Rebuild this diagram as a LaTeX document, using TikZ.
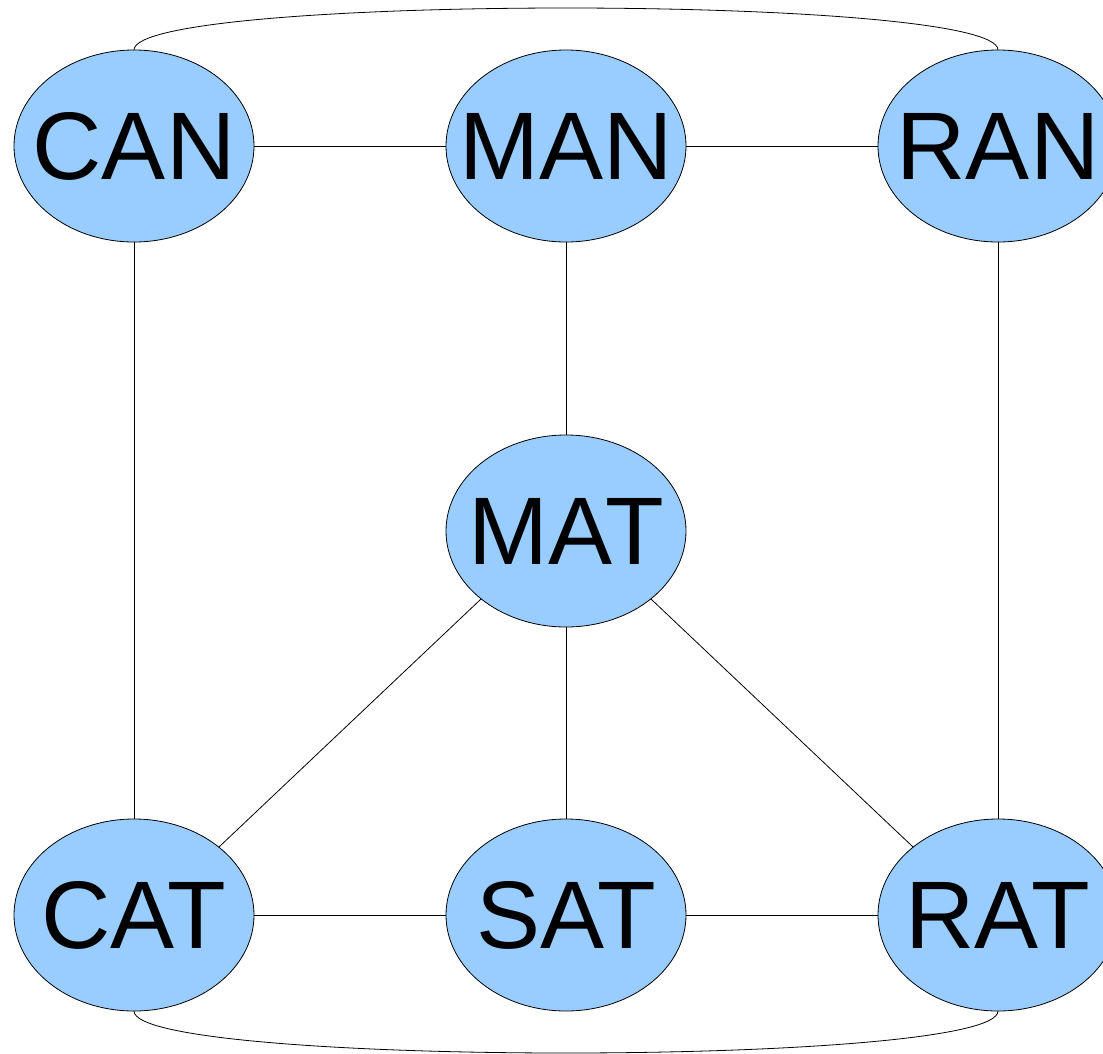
\documentclass[tikz,border=0pt]{standalone}
\usepackage{fontspec}
\setmainfont{Liberation Sans}
\usetikzlibrary{shapes.geometric}
\definecolor{nodeblue}{HTML}{99CCFF}
\tikzset{
  wnode/.style={ellipse, draw=black, line width=0.8pt, fill=nodeblue,
    minimum width=240pt, minimum height=192pt, inner sep=0pt, outer sep=0pt,
    label={[font=\fontsize{96}{96}\selectfont, inner sep=0pt]center:#1}},
  link/.style={draw=black, line width=0.8pt}
}
\begin{document}
\begin{tikzpicture}[x=1pt,y=-1pt]
\useasboundingbox (0,0) rectangle (1103,1053);
\node[wnode=CAN] (CAN) at (134,146) {};
\node[wnode=MAN] (MAN) at (566,146) {};
\node[wnode=RAN] (RAN) at (998,146) {};
\node[wnode=MAT] (MAT) at (566,531) {};
\node[wnode=CAT] (CAT) at (134,915) {};
\node[wnode=SAT] (SAT) at (566,915) {};
\node[wnode=RAT] (RAT) at (998,915) {};
\draw[link] (CAN.east) -- (MAN.west);
\draw[link] (MAN.east) -- (RAN.west);
\draw[link] (CAT.east) -- (SAT.west);
\draw[link] (SAT.east) -- (RAT.west);
\draw[link] (CAN.south) -- (CAT.north);
\draw[link] (RAN.south) -- (RAT.north);
\draw[link] (MAN.south) -- (MAT.north);
\draw[link] (MAT.south) -- (SAT.north);
\draw[link] (MAT.south west) -- (CAT.north east);
\draw[link] (MAT.south east) -- (RAT.north west);
\draw[link] (CAN.north) .. controls +(0,-56) and +(0,-56) .. (RAN.north);
\draw[link] (CAT.south) .. controls +(0,56) and +(0,56) .. (RAT.south);
\end{tikzpicture}
\end{document}
